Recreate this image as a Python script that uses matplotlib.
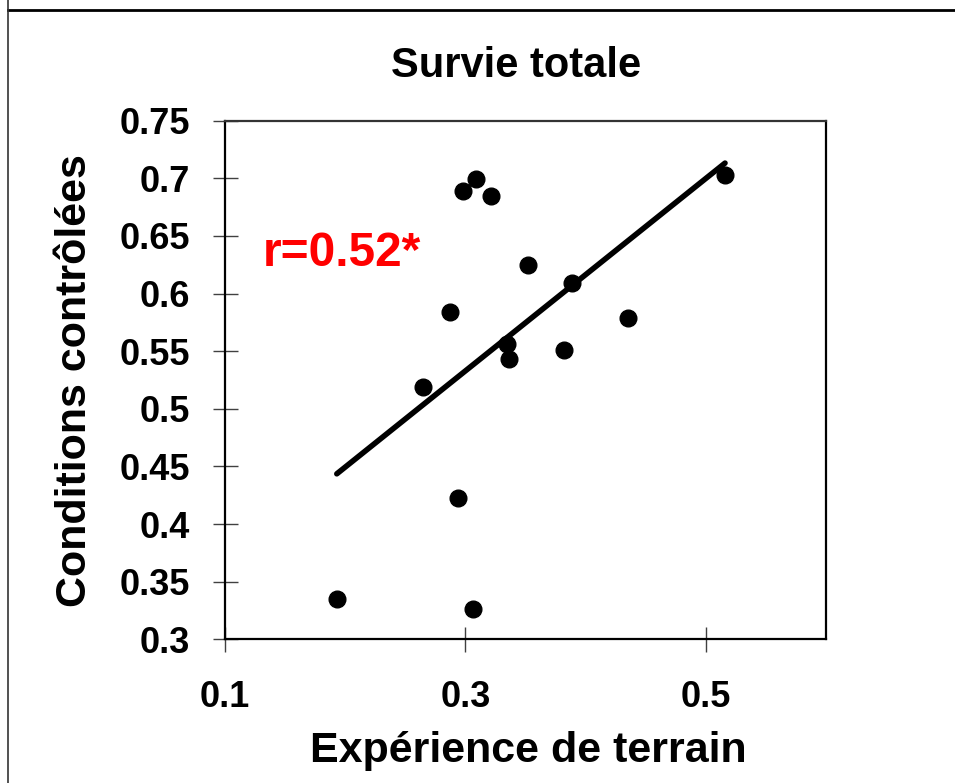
import numpy as np
import matplotlib
matplotlib.use('Agg')
import matplotlib.pyplot as plt
from matplotlib.lines import Line2D

plt.rcParams['font.family'] = ['Liberation Sans', 'DejaVu Sans']
plt.rcParams['font.weight'] = 'bold'

# valeurs
terrain = [0.298, 0.309, 0.321, 0.352, 0.389, 0.287, 0.435, 0.335, 0.336,
           0.382, 0.265, 0.516, 0.294, 0.193, 0.306]
controle = [0.689, 0.699, 0.685, 0.625, 0.609, 0.584, 0.579, 0.556, 0.543,
            0.551, 0.519, 0.703, 0.423, 0.335, 0.326]

x_ticks = [0.1, 0.3, 0.5]
x_labels = ['0.1', '0.3', '0.5']
y_ticks = [0.3, 0.35, 0.4, 0.45, 0.5, 0.55, 0.6, 0.65, 0.7, 0.75]
y_labels = ['0.3', '0.35', '0.4', '0.45', '0.5', '0.55', '0.6', '0.65', '0.7', '0.75']

titre = 'Survie totale'
label_x = 'Expérience de terrain'
label_y = 'Conditions contrôlées'
annot = 'r=0.52*'

fig = plt.figure(figsize=(9.55, 7.83), dpi=100)
ax = fig.add_axes([225 / 955, 1 - 639.3 / 783, 601 / 955, 518.6 / 783])

# droite de regression sur l'etendue des donnees
pente, ordo = np.polyfit(terrain, controle, 1)
xs = np.array([min(terrain), max(terrain)])
ax.plot(xs, pente * xs + ordo, color='black', lw=4, solid_capstyle='round', zorder=3)
ax.plot(terrain, controle, 'o', color='black', ms=12, zorder=4)

ax.set_xlim(0.1, 0.6)
ax.set_ylim(0.3, 0.75)
ax.set_xticks(x_ticks)
ax.set_xticklabels(x_labels)
ax.set_yticks(y_ticks)
ax.set_yticklabels(y_labels)
ax.tick_params(axis='both', direction='inout', length=18, width=1, color='#404040',
               labelsize=26)
ax.tick_params(axis='x', pad=20)
ax.tick_params(axis='y', pad=16)
for lbl in ax.get_xticklabels() + ax.get_yticklabels():
    lbl.set_fontweight('bold')

for side in ['left', 'bottom', 'right']:
    ax.spines[side].set_linewidth(1.6)
    ax.spines[side].set_color('black')
ax.spines['top'].set_linewidth(1.6)
ax.spines['top'].set_color('#333333')

ax.text(0.1315, 0.624, annot, color='red', fontsize=34.5, fontweight='bold')

fig.text(516.5 / 955, 1 - 77 / 783, titre, ha='center', va='baseline',
         fontsize=30, fontweight='bold')
fig.text(528.5 / 955, 1 - 762 / 783, label_x, ha='center', va='baseline',
         fontsize=31, fontweight='bold')
fig.text(75 / 955, 1 - 381 / 783, label_y, ha='center', va='center', rotation=90,
         fontsize=31, fontweight='bold')

# cadre exterieur
fig.add_artist(Line2D([7.5 / 955, 1], [1 - 9.5 / 783, 1 - 9.5 / 783],
                      transform=fig.transFigure, color='black', lw=2))
fig.add_artist(Line2D([7.5 / 955, 7.5 / 955], [0, 1],
                      transform=fig.transFigure, color='#333333', lw=1.2))

fig.savefig('out.png', dpi=100)
